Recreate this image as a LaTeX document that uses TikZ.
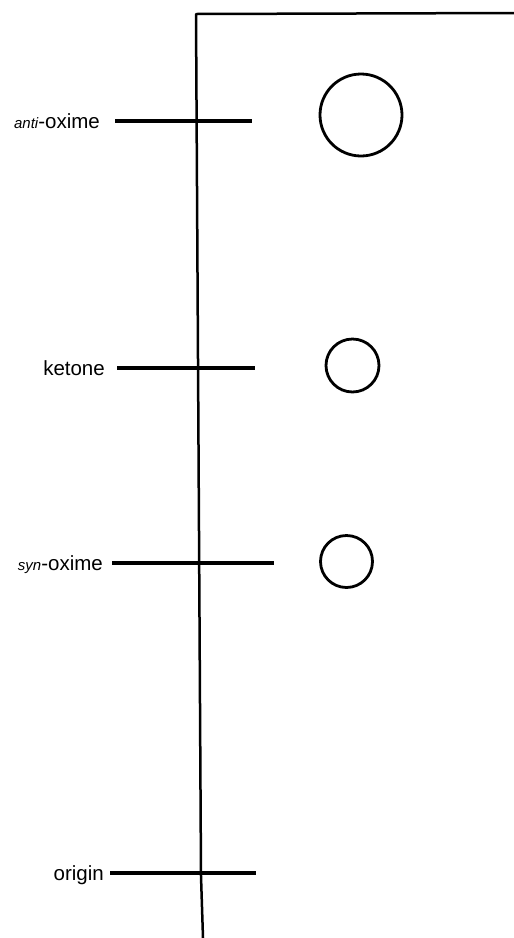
\documentclass[tikz,border=0pt]{standalone}
\usepackage{fontspec}
\setmainfont{Liberation Sans}
\usepackage{tikz}
\usetikzlibrary{positioning,calc}

\newcommand{\isoprefix}[1]{{\fontsize{15}{17}\selectfont\itshape #1}}

\begin{document}
\begin{tikzpicture}[
  x=1pt, y=-1pt,
  font=\fontsize{20.5}{24}\selectfont,
  every node/.style={align=center},
  lbl/.style={anchor=base east, inner ysep=0pt, inner xsep=12pt},
  tick/.style={line width=3.4pt, black},
  axis/.style={line width=2.5pt, black},
  spot/.style={draw=black, line width=2.8pt, circle, inner sep=0pt}
]
\useasboundingbox (0,0) rectangle (514,938);

% chromatogram frame: solvent front and the plate's edge
\coordinate (front) at (514,13);
\coordinate (corner) at (196,14);
\coordinate (kink) at (201,876);
\coordinate (foot) at (203,938);
\draw[axis, line join=round] (front) -- (corner) -- (kink) -- (foot);

% tick ends
\coordinate (antiend) at (252,121);
\coordinate (ketend) at (255,368);
\coordinate (synend) at (274,563);
\coordinate (origend) at (256,873);

% labels
\node[lbl, inner xsep=15pt] (anti) at (115,128) {\isoprefix{anti}-oxime};
\node[lbl] (ket) at (117,375) {ketone};
\node[lbl, inner xsep=9pt] (syn) at (112,570) {\isoprefix{syn}-oxime};
\node[lbl, inner xsep=6pt] (orig) at (110,880) {origin};

\draw[tick] (anti.east |- antiend) -- (antiend);
\draw[tick] (ket.east |- ketend) -- (ketend);
\draw[tick] (syn.east |- synend) -- (synend);
\draw[tick] (orig.east |- origend) -- (origend);

% spots
\node[spot, minimum size=82pt] (antispot) at (361,115) {};
\node[spot, minimum size=53pt] (ketspot) at (352.5,365.5) {};
\node[spot, minimum size=52pt] (synspot) at (346.5,561.5) {};

\end{tikzpicture}
\end{document}
